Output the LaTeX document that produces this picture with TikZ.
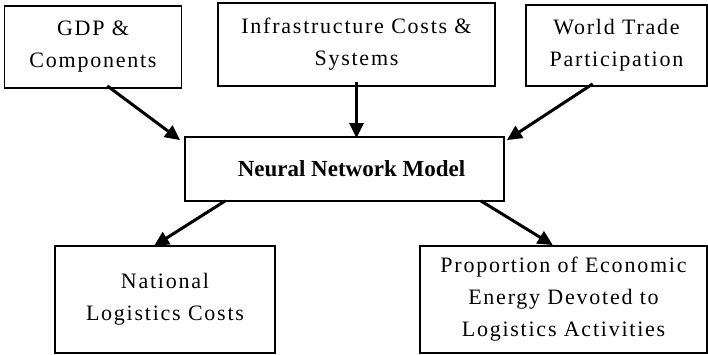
\documentclass[tikz,border=0pt]{standalone}
\usepackage{fontspec}
\setmainfont{Liberation Serif}
\newfontfamily\boxfont[LetterSpace=8]{Liberation Serif}
\usetikzlibrary{arrows.meta,calc}

\begin{document}
\begin{tikzpicture}[x=1pt,y=-1pt,
  box/.style={draw, line width=1.8pt, rectangle, inner sep=0pt, align=center,
    font=\boxfont\fontsize{22}{32}\selectfont},
  flow/.style={line width=3pt, -{Triangle[length=15pt,width=14pt]}}]

  \useasboundingbox (0,0) rectangle (708,355);

  % input factors
  \node[box, minimum width=177pt, minimum height=82pt] (gdp) at (93,47) {GDP \&\\Components};
  \node[box, minimum width=277pt, minimum height=83pt] (infra) at (356.5,44.5) {Infrastructure Costs \&\\Systems};
  \node[box, minimum width=181pt, minimum height=81pt] (trade) at (616.5,45.5) {World Trade\\Participation};

  % model
  \node[box, minimum width=319pt, minimum height=64pt,
        font=\bfseries\fontsize{23}{28}\selectfont] (nn) at (344.5,169) {\hspace*{14pt}Neural Network Model};

  % outputs
  \node[box, minimum width=220pt, minimum height=107pt] (nat) at (165,299.5) {National\\Logistics Costs};
  \node[box, minimum width=287pt, minimum height=107pt] (prop) at (563.5,299.5) {Proportion of Economic\\Energy Devoted to\\Logistics Activities};

  % connectors
  \draw[flow] ([yshift=3pt]$(gdp.south west)!0.58!(gdp.south east)$) -- ([xshift=-4pt,yshift=-4pt]nn.north west);
  \draw[flow] ([yshift=5pt]infra.south) -- ([yshift=-2pt]infra.south |- nn.north);
  \draw[flow] ([yshift=3pt]$(trade.south west)!0.37!(trade.south east)$) -- ([xshift=2pt,yshift=-4pt]nn.north east);
  \draw[flow] ([yshift=1pt]$(nn.south west)!0.128!(nn.south east)$) -- ([yshift=-1pt]$(nat.north west)!0.45!(nat.north east)$);
  \draw[flow] ([yshift=1pt]$(nn.south west)!0.925!(nn.south east)$) -- ($(prop.north west)!0.463!(prop.north east)$);
\end{tikzpicture}
\end{document}
